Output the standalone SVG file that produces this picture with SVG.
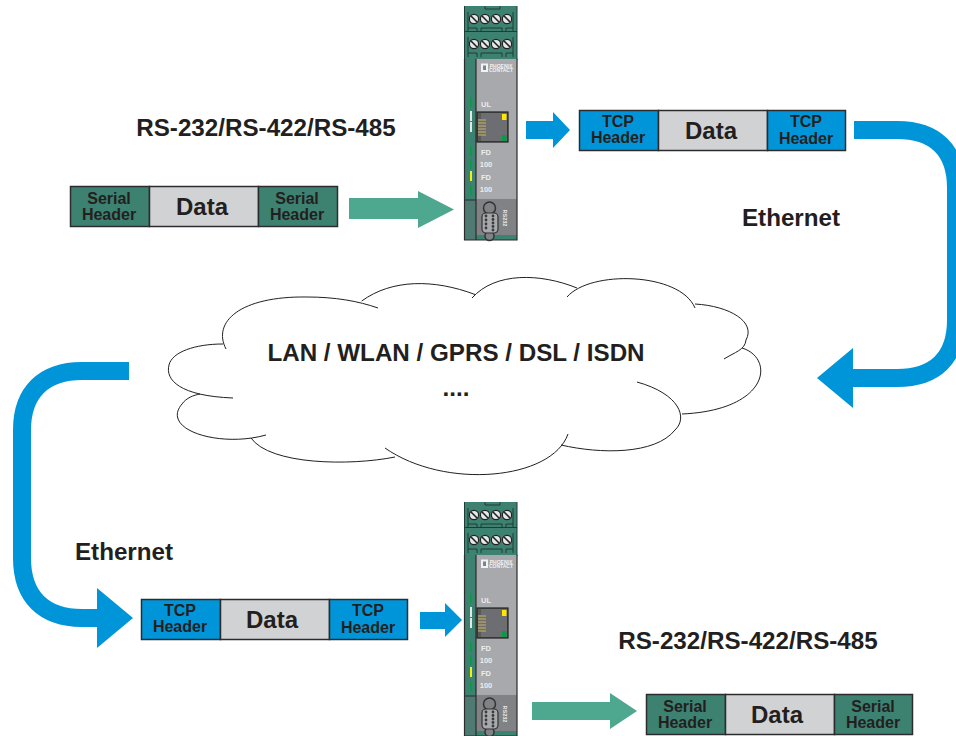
<svg xmlns="http://www.w3.org/2000/svg" width="956" height="736" viewBox="0 0 956 736">
<style>
text{font-family:"Liberation Sans",Arial,sans-serif;font-weight:700;fill:#231f20;text-anchor:middle}
.lbl{font-size:24.2px}
.hdr{font-size:16px}
.dat{font-size:24px}
.g{fill:#3d8170;stroke:#2c2c2e;stroke-width:1.5}
.b{fill:#0095d9;stroke:#2c2c2e;stroke-width:1.5}
.d{fill:#d1d2d4;stroke:#2c2c2e;stroke-width:1.5}
.cl{fill:none;stroke:#231f20;stroke-width:1}
.band{fill:none;stroke:#0095d9;stroke-width:18}
.ln{fill:none;stroke:#1f3d35;stroke-width:1}
.dv{font-size:7.5px;fill:#eceded}
.sc{fill:#e6e7e8;stroke:#222;stroke-width:1.2}
.sl{stroke:#222;stroke-width:1.6}
.pin{fill:#3a3a3c}
</style>
<defs>
<g id="screw"><circle r="4.600" class="sc"/><path d="M-3-3 3 3" class="sl"/></g>
<g id="device">
<rect x="464.500" y="6" width="52.500" height="54" fill="#3d8170"/>
<path d="M464.500 6V60M517 6V60M464.500 31.500H517M468 32V12M513 32V12M468 57V37M513 57V37M485 6V9H500V6M468 28H477V32M481 32V28H502V32M506 32V28H513M468 53H477V57M481 57V53H502V57M506 57V53H513" class="ln"/>
<use href="#screw" x="474" y="19"/><use href="#screw" x="485" y="19"/><use href="#screw" x="496" y="19"/><use href="#screw" x="507" y="19"/>
<use href="#screw" x="474" y="44"/><use href="#screw" x="485" y="44"/><use href="#screw" x="496" y="44"/><use href="#screw" x="507" y="44"/>
<rect x="476" y="59" width="41" height="140" fill="#a7a9ac"/>
<rect x="476" y="199" width="41" height="36" fill="#808285"/>
<rect x="476" y="235" width="41" height="5" fill="#3d8170"/>
<rect x="465" y="59" width="11" height="141" fill="#3d8170"/>
<rect x="465" y="200" width="11" height="40" fill="#4f7a72"/>
<path d="M464.500 59V240H517V59M476 59V240M465 200H476" fill="none" stroke="#2c2c2e" stroke-width="1.2"/>
<rect x="481" y="63.500" width="7" height="8.500" fill="#f1f2f2"/>
<rect x="483" y="65.500" width="3" height="4.500" fill="#808285"/>
<text x="501" y="67.500" style="font-size:5px;fill:#f1f2f2">PHOENIX</text>
<text x="501" y="72" style="font-size:5px;fill:#f1f2f2">CONTACT</text>
<rect x="470" y="97" width="2" height="10" fill="#0a9a4a"/>
<rect x="470" y="111" width="2" height="10" fill="#e6e7e8"/>
<rect x="470" y="122" width="2" height="10" fill="#e6e7e8"/>
<rect x="470" y="146" width="2" height="10" fill="#0a9a4a"/>
<rect x="470" y="159" width="2" height="10" fill="#0a9a4a"/>
<rect x="470" y="171" width="2" height="10" fill="#f7ec13"/>
<rect x="470" y="185" width="2" height="10" fill="#0a9a4a"/>
<text x="486" y="107" class="dv">UL</text>
<rect x="477" y="112" width="31" height="30" fill="#58595b" stroke="#222" stroke-width="1.2"/>
<path d="M478 119H481V113H507V141H481V135H478Z" fill="#6d6e71"/>
<path d="M478 120H486M478 123H486M478 126H486M478 129H486M478 132H486M478 135H486" stroke="#c9b458" stroke-width="1"/>
<rect x="502" y="114" width="4.500" height="6" fill="#ffe600"/>
<rect x="502" y="135" width="4.500" height="6" fill="#0a9a4a"/>
<text x="486" y="155" class="dv">FD</text>
<text x="486" y="167" class="dv">100</text>
<text x="486" y="180" class="dv">FD</text>
<text x="486" y="192" class="dv">100</text>
<circle cx="489.500" cy="208" r="6" fill="#808285" stroke="#333" stroke-width="1.500"/>
<circle cx="489.500" cy="236" r="4.500" fill="#808285" stroke="#333" stroke-width="1.500"/>
<rect x="482" y="213" width="16" height="20" rx="4" fill="#a7a9ac" stroke="#333" stroke-width="1.200"/>
<g class="pin"><circle cx="486" cy="216" r="1.400"/><circle cx="486" cy="220" r="1.400"/><circle cx="486" cy="224" r="1.400"/><circle cx="486" cy="228" r="1.400"/><circle cx="493" cy="216" r="1.400"/><circle cx="493" cy="219.500" r="1.400"/><circle cx="493" cy="223" r="1.400"/><circle cx="493" cy="226.500" r="1.400"/><circle cx="493" cy="230" r="1.400"/></g>
<text x="0" y="0" transform="translate(503 218) rotate(90)" style="font-size:5.500px;fill:#e6e7e8">RS232</text>
</g>
</defs>
<rect width="956" height="736" fill="#fff"/>
<g id="connectors">
<path class="band" d="M854 130H897C935 130 956 150 956 188V320C956 358 935 378 897 378H850"/>
<path d="M853 348V408L817 378Z" fill="#0095d9"/>
<path class="band" d="M129 371H82C44 371 22 392 22 430V558C22 597 44 618 82 618H100"/>
<path d="M97 588V648L133 618Z" fill="#0095d9"/>
<path d="M526 121H553V112L570 130L553 148V139H526Z" fill="#0095d9"/>
<path d="M420 612H445V603L462 620L445 637V629H420Z" fill="#0095d9"/>
<path d="M349 198H418V191L454 209.500L418 228V219H349Z" fill="#4ea78f"/>
<path d="M532 702H610V693L637 711L610 729V720H532Z" fill="#4ea78f"/>
</g>
<g id="device-top"><use href="#device"/></g>
<g id="device-bottom"><use href="#device" y="496"/></g>
<g id="cloud">
<path class="cl" d="M361.700 301C392 279 434 279 475 294.500"/>
<path class="cl" d="M472 298C495 272 540 273 577 288"/>
<path class="cl" d="M567 297C590 270 680 272 695 308"/>
<path class="cl" d="M695 304C730 306 756 322 746 340C745 350 735 352 724 359"/>
<path class="cl" d="M742 348C775 358 770 410 682 414"/>
<path class="cl" d="M637 382C680 394 688 418 675 430C655 455 600 454 561 445"/>
<path class="cl" d="M568 434C552 480 445 490 385 448"/>
<path class="cl" d="M395 457C350 466 270 465 251 438"/>
<path class="cl" d="M266 435C220 448 160 430 182 404C186 398 194 395 200 394"/>
<path class="cl" d="M233 398C180 396 165 380 169 365C172 352 195 344 223 344"/>
<path class="cl" d="M226 349C212 322 240 296 307 297C335 297 358 301 378 308"/>
</g>
<text class="lbl" x="266" y="136">RS-232/RS-422/RS-485</text>
<text class="lbl" x="791" y="226">Ethernet</text>
<text class="lbl" x="456" y="361">LAN / WLAN / GPRS / DSL / ISDN</text>
<text class="lbl" x="456" y="396">....</text>
<text class="lbl" x="124" y="560">Ethernet</text>
<text class="lbl" x="748" y="649">RS-232/RS-422/RS-485</text>
<g id="packet-serial-top">
<rect class="g" x="70.500" y="186.500" width="79" height="40"/><rect class="d" x="149.500" y="186.500" width="109" height="40"/><rect class="g" x="258.500" y="186.500" width="79" height="40"/>
<text class="hdr" x="109" y="204">Serial</text><text class="hdr" x="109" y="220">Header</text>
<text class="dat" x="202" y="215">Data</text>
<text class="hdr" x="297" y="204">Serial</text><text class="hdr" x="297" y="220">Header</text>
</g>
<g id="packet-tcp-top">
<rect class="b" x="579.500" y="110.500" width="79" height="40"/><rect class="d" x="658.500" y="110.500" width="109" height="40"/><rect class="b" x="767.500" y="110.500" width="78" height="40"/>
<text class="hdr" x="618" y="127">TCP</text><text class="hdr" x="618" y="143">Header</text>
<text class="dat" x="711" y="139">Data</text>
<text class="hdr" x="806" y="127">TCP</text><text class="hdr" x="806" y="143.500">Header</text>
</g>
<g id="packet-tcp-bottom">
<rect class="b" x="141.500" y="599.500" width="79" height="40"/><rect class="d" x="220.500" y="599.500" width="109" height="40"/><rect class="b" x="329.500" y="599.500" width="78" height="40"/>
<text class="hdr" x="180" y="616">TCP</text><text class="hdr" x="180" y="632">Header</text>
<text class="dat" x="272" y="628">Data</text>
<text class="hdr" x="368" y="616">TCP</text><text class="hdr" x="368" y="632.500">Header</text>
</g>
<g id="packet-serial-bottom">
<rect class="g" x="646.500" y="694.500" width="79" height="40"/><rect class="d" x="725.500" y="694.500" width="109" height="40"/><rect class="g" x="834.500" y="694.500" width="78" height="40"/>
<text class="hdr" x="685" y="712">Serial</text><text class="hdr" x="685" y="728">Header</text>
<text class="dat" x="777" y="723">Data</text>
<text class="hdr" x="873" y="712">Serial</text><text class="hdr" x="873" y="728">Header</text>
</g>
</svg>
